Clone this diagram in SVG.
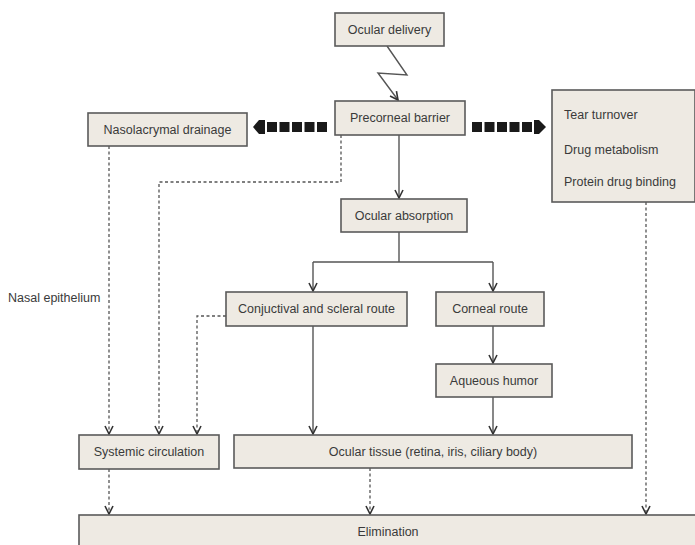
<svg xmlns="http://www.w3.org/2000/svg" width="695" height="545" viewBox="0 0 695 545">
<style>
.box{fill:#eeeae3;stroke:#5a5a5a;stroke-width:1.6}
.t{font-family:"Liberation Sans",Arial,sans-serif;font-size:12.5px;fill:#3a3a3a;text-anchor:middle}
.tl{font-family:"Liberation Sans",Arial,sans-serif;font-size:12.5px;fill:#3a3a3a;text-anchor:start}
.solid{fill:none;stroke:#555;stroke-width:1.4}
.dot{fill:none;stroke:#555;stroke-width:1.3;stroke-dasharray:3 2.5}
.blk{fill:#1a1a1a}
</style>
<defs>
<marker id="ah" markerUnits="userSpaceOnUse" markerWidth="12" markerHeight="12" refX="9" refY="5" orient="auto">
<path d="M1,1 L9,5 L1,9" fill="none" stroke="#333" stroke-width="1.6"/>
</marker>
</defs>
<rect width="695" height="545" fill="#ffffff"/>

<g id="connectors">
<polyline class="solid" points="387,46 407,75 378,73 398,100" marker-end="url(#ah)"/>
<line class="solid" x1="399" y1="135" x2="399" y2="198" marker-end="url(#ah)"/>
<path class="solid" d="M399,232 V262"/>
<path class="solid" d="M313,262 H493"/>
<line class="solid" x1="313" y1="262" x2="313" y2="291" marker-end="url(#ah)"/>
<line class="solid" x1="493" y1="262" x2="493" y2="291" marker-end="url(#ah)"/>
<line class="solid" x1="313" y1="326" x2="313" y2="434" marker-end="url(#ah)"/>
<line class="solid" x1="493" y1="326" x2="493" y2="363" marker-end="url(#ah)"/>
<line class="solid" x1="493" y1="397" x2="493" y2="434" marker-end="url(#ah)"/>
<line class="dot" x1="109" y1="146" x2="109" y2="434" marker-end="url(#ah)"/>
<path class="dot" d="M341,135 V182 H159 V434" marker-end="url(#ah)"/>
<path class="dot" d="M226,316 H197 V434" marker-end="url(#ah)"/>
<line class="dot" x1="109" y1="469" x2="109" y2="514" marker-end="url(#ah)"/>
<line class="dot" x1="370" y1="468" x2="370" y2="514" marker-end="url(#ah)"/>
<line class="dot" x1="646" y1="202" x2="646" y2="514" marker-end="url(#ah)"/>
<g id="arrow-left">
<polygon class="blk" points="253,127 259,120 265,120 265,134 259,134"/>
<rect class="blk" x="267" y="122" width="10" height="10"/>
<rect class="blk" x="279.5" y="122" width="10" height="10"/>
<rect class="blk" x="292" y="122" width="10" height="10"/>
<rect class="blk" x="304.5" y="122" width="10" height="10"/>
<rect class="blk" x="317" y="122" width="10" height="10"/>
</g>
<g id="arrow-right">
<rect class="blk" x="472" y="122" width="10" height="10"/>
<rect class="blk" x="484.5" y="122" width="10" height="10"/>
<rect class="blk" x="497" y="122" width="10" height="10"/>
<rect class="blk" x="509.5" y="122" width="10" height="10"/>
<rect class="blk" x="522" y="122" width="10" height="10"/>
<polygon class="blk" points="534,120 539,120 546,127 539,134 534,134"/>
</g>
</g>

<g id="ocular-delivery"><rect class="box" x="335" y="13" width="109" height="33"/><text class="t" x="389.5" y="34">Ocular delivery</text></g>
<g id="precorneal-barrier"><rect class="box" x="335" y="101" width="130" height="34"/><text class="t" x="400" y="122">Precorneal barrier</text></g>
<g id="nasolacrymal-drainage"><rect class="box" x="88" y="113" width="159" height="33"/><text class="t" x="167.5" y="134">Nasolacrymal drainage</text></g>
<g id="tear-box"><rect class="box" x="552" y="90" width="143" height="112"/>
<text class="tl" x="564" y="119">Tear turnover</text>
<text class="tl" x="564" y="154">Drug metabolism</text>
<text class="tl" x="564" y="186">Protein drug binding</text></g>
<g id="ocular-absorption"><rect class="box" x="341" y="199" width="126" height="33"/><text class="t" x="404" y="220">Ocular absorption</text></g>
<g id="nasal-epithelium"><text class="tl" x="8" y="302">Nasal epithelium</text></g>
<g id="conjunctival-route"><rect class="box" x="226" y="292" width="181" height="34"/><text class="t" x="316.5" y="313">Conjuctival and scleral route</text></g>
<g id="corneal-route"><rect class="box" x="436" y="292" width="108" height="34"/><text class="t" x="490" y="313">Corneal route</text></g>
<g id="aqueous-humor"><rect class="box" x="436" y="364" width="116" height="33"/><text class="t" x="494" y="385">Aqueous humor</text></g>
<g id="systemic-circulation"><rect class="box" x="79" y="435" width="140" height="34"/><text class="t" x="149" y="456">Systemic circulation</text></g>
<g id="ocular-tissue"><rect class="box" x="234" y="435" width="398" height="33"/><text class="t" x="433" y="456">Ocular tissue (retina, iris, ciliary body)</text></g>
<g id="elimination"><rect class="box" x="79" y="515" width="630" height="40"/><text class="t" x="388" y="536">Elimination</text></g>
</svg>
